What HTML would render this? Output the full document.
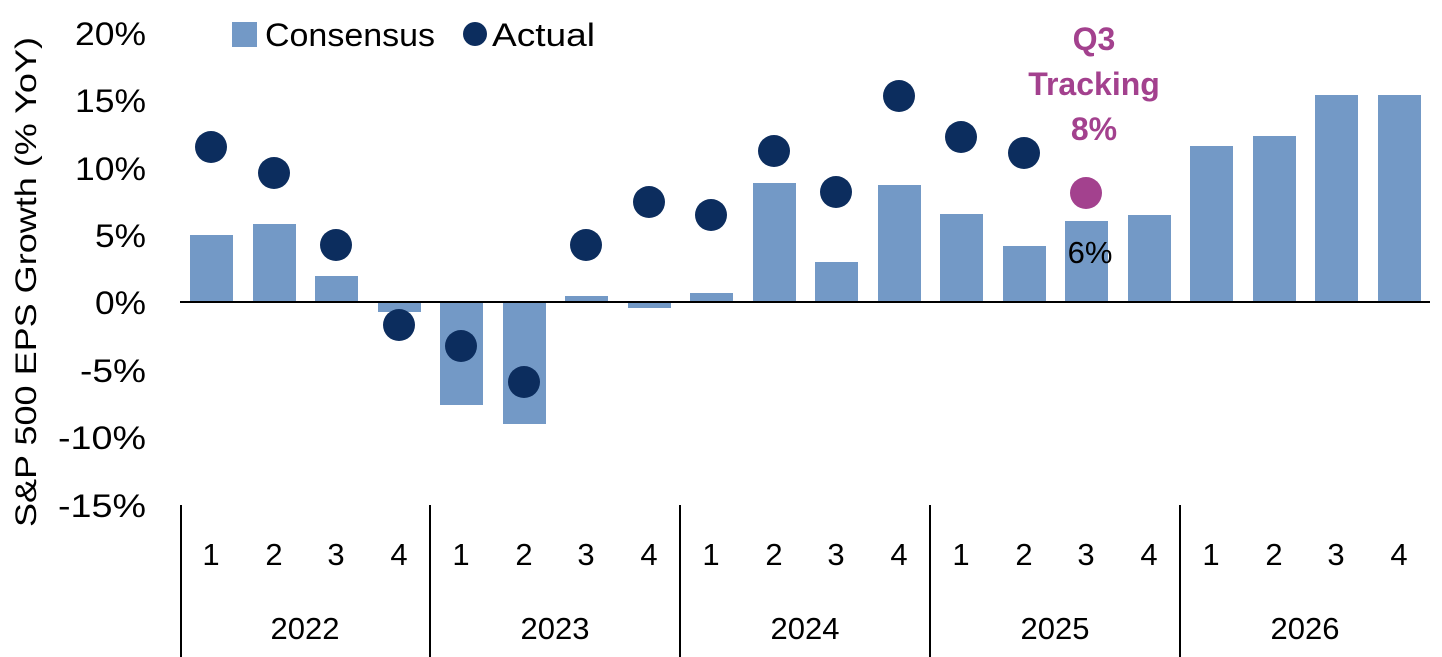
<!DOCTYPE html>
<html><head><meta charset="utf-8"><style>
html,body{margin:0;padding:0;background:#fff;}
svg{display:block;font-family:"Liberation Sans","DejaVu Sans",sans-serif;}
</style></head><body>
<svg width="1442" height="657" viewBox="0 0 1442 657" xmlns="http://www.w3.org/2000/svg">
<g fill="#7399c6">
<rect x="190" y="235" width="43" height="67"/>
<rect x="253" y="224" width="43" height="78"/>
<rect x="315" y="276" width="43" height="26"/>
<rect x="378" y="302" width="43" height="10"/>
<rect x="440" y="302" width="43" height="103"/>
<rect x="503" y="302" width="43" height="122"/>
<rect x="565" y="296" width="43" height="6"/>
<rect x="628" y="302" width="43" height="6"/>
<rect x="690" y="293" width="43" height="9"/>
<rect x="753" y="183" width="43" height="119"/>
<rect x="815" y="262" width="43" height="40"/>
<rect x="878" y="185" width="43" height="117"/>
<rect x="940" y="214" width="43" height="88"/>
<rect x="1003" y="246" width="43" height="56"/>
<rect x="1065" y="221" width="43" height="81"/>
<rect x="1128" y="215" width="43" height="87"/>
<rect x="1190" y="146" width="43" height="156"/>
<rect x="1253" y="136" width="43" height="166"/>
<rect x="1315" y="95" width="43" height="207"/>
<rect x="1378" y="95" width="43" height="207"/>
</g>
<line x1="180" y1="302" x2="1430" y2="302" stroke="#000" stroke-width="2"/>
<g stroke="#000" stroke-width="2">
<line x1="181" y1="505" x2="181" y2="657"/>
<line x1="430" y1="505" x2="430" y2="657"/>
<line x1="680" y1="505" x2="680" y2="657"/>
<line x1="930" y1="505" x2="930" y2="657"/>
<line x1="1180" y1="505" x2="1180" y2="657"/>
</g>
<g fill="#0c2d5e">
<circle cx="211" cy="147" r="16"/>
<circle cx="274" cy="173" r="16"/>
<circle cx="336" cy="245" r="16"/>
<circle cx="399" cy="325" r="16"/>
<circle cx="461" cy="346" r="16"/>
<circle cx="524" cy="382" r="16"/>
<circle cx="586" cy="245" r="16"/>
<circle cx="649" cy="202" r="16"/>
<circle cx="711" cy="215" r="16"/>
<circle cx="774" cy="151" r="16"/>
<circle cx="836" cy="192" r="16"/>
<circle cx="899" cy="96" r="16"/>
<circle cx="961" cy="137" r="16"/>
<circle cx="1024" cy="153" r="16"/>
</g>
<circle cx="1086" cy="193" r="16" fill="#a3418e"/>
<g font-size="32" fill="#000">
<text x="75" y="45" textLength="71" lengthAdjust="spacingAndGlyphs">20%</text>
<text x="75" y="112" textLength="71" lengthAdjust="spacingAndGlyphs">15%</text>
<text x="75" y="180" textLength="71" lengthAdjust="spacingAndGlyphs">10%</text>
<text x="95" y="247" textLength="51" lengthAdjust="spacingAndGlyphs">5%</text>
<text x="95" y="314" textLength="51" lengthAdjust="spacingAndGlyphs">0%</text>
<text x="80" y="382" textLength="66" lengthAdjust="spacingAndGlyphs">-5%</text>
<text x="58" y="449" textLength="88" lengthAdjust="spacingAndGlyphs">-10%</text>
<text x="58" y="517" textLength="88" lengthAdjust="spacingAndGlyphs">-15%</text>
</g>
<text transform="translate(36,282) rotate(-90)" font-size="30" text-anchor="middle" textLength="490" lengthAdjust="spacingAndGlyphs">S&amp;P 500 EPS Growth (% YoY)</text>
<g font-size="31" text-anchor="middle">
<text x="211" y="565">1</text><text x="274" y="565">2</text><text x="336" y="565">3</text><text x="399" y="565">4</text>
<text x="461" y="565">1</text><text x="524" y="565">2</text><text x="586" y="565">3</text><text x="649" y="565">4</text>
<text x="711" y="565">1</text><text x="774" y="565">2</text><text x="836" y="565">3</text><text x="899" y="565">4</text>
<text x="961" y="565">1</text><text x="1024" y="565">2</text><text x="1086" y="565">3</text><text x="1149" y="565">4</text>
<text x="1211" y="565">1</text><text x="1274" y="565">2</text><text x="1336" y="565">3</text><text x="1399" y="565">4</text>
<text x="305" y="639">2022</text><text x="555" y="639">2023</text><text x="805" y="639">2024</text><text x="1055" y="639">2025</text><text x="1305" y="639">2026</text>
</g>
<text x="1090" y="263" font-size="31" text-anchor="middle">6%</text>
<g font-size="32" font-weight="bold" fill="#a3418e" text-anchor="middle">
<text x="1094" y="50">Q3</text>
<text x="1094" y="95">Tracking</text>
<text x="1094" y="140">8%</text>
</g>
<rect x="232" y="22" width="25" height="25" fill="#7399c6"/>
<text x="265" y="46" font-size="32" textLength="170" lengthAdjust="spacingAndGlyphs">Consensus</text>
<circle cx="475" cy="34" r="12" fill="#0c2d5e"/>
<text x="492" y="46" font-size="32" textLength="103" lengthAdjust="spacingAndGlyphs">Actual</text>
</svg>
</body></html>
